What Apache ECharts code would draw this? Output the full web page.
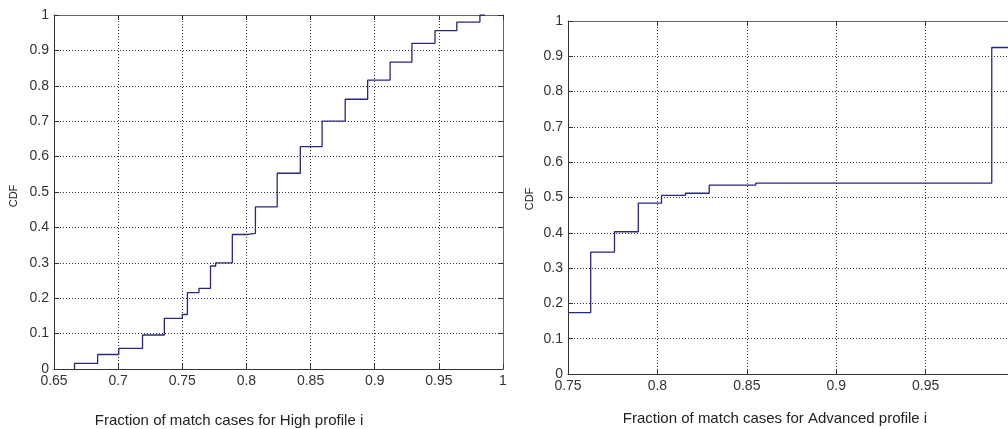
<!DOCTYPE html>
<html>
<head>
<meta charset="utf-8">
<script src="https://cdn.jsdelivr.net/npm/echarts@6/dist/echarts.min.js"></script>
<style>
  html, body { margin: 0; padding: 0; background: #fff; }
  #chart { width: 1008px; height: 429px; }
</style>
</head>
<body>
<div id="chart"></div>
<script>
// left panel: High profile
const highX = [0.666, 0.666, 0.684, 0.7005, 0.719, 0.736, 0.750, 0.754, 0.763, 0.772, 0.776, 0.789, 0.801, 0.807, 0.824, 0.842, 0.859, 0.877, 0.8945, 0.912, 0.929, 0.947, 0.964, 0.982, 0.986];
const highCdf = [0, 0.016, 0.041, 0.058, 0.096, 0.143, 0.154, 0.216, 0.228, 0.291, 0.300, 0.380, 0.383, 0.458, 0.553, 0.628, 0.700, 0.762, 0.816, 0.867, 0.920, 0.956, 0.980, 1.0, 1.0];
const highXTicks = [0.65, 0.7, 0.75, 0.8, 0.85, 0.9, 0.95, 1];

// right panel: Advanced profile (cut off at the right edge in the original)
const advX = [0.75, 0.7627, 0.776, 0.7893, 0.8023, 0.8157, 0.829, 0.855, 0.987, 1.0];
const advCdf = [0.174, 0.345, 0.403, 0.484, 0.506, 0.512, 0.535, 0.541, 0.925, 0.925];
const advXTicks = [0.75, 0.8, 0.85, 0.9, 0.95, 1];

const yTicks = [0, 0.1, 0.2, 0.3, 0.4, 0.5, 0.6, 0.7, 0.8, 0.9, 1];

const font = 'Liberation Sans, Arial, sans-serif';
const lineColor = '#28287f';
const fmt = (v) => String(+v.toFixed(2));

function xAxes(gridIndex, ticks) {
  const base = {
    type: 'value', gridIndex,
    min: ticks[0], max: ticks[ticks.length - 1], interval: 0.05,
    axisTick: { show: true, inside: true, length: 5, lineStyle: { color: '#333' } },
  };
  return [
    {
      ...base, position: 'bottom',
      axisLine: { show: true, onZero: false, lineStyle: { color: '#333', width: 1 } },
      axisLabel: { formatter: fmt, color: '#333', fontFamily: font, fontSize: 14, margin: 5 },
      splitLine: { show: true, lineStyle: { color: '#333', type: [1, 2], width: 1 } },
    },
    {
      ...base, position: 'top',
      axisLine: { show: true, onZero: false, lineStyle: { color: '#666', width: 1 } },
      axisLabel: { show: false }, splitLine: { show: false },
    },
  ];
}

function yAxes(gridIndex) {
  const base = {
    type: 'value', gridIndex,
    min: yTicks[0], max: yTicks[yTicks.length - 1], interval: 0.1,
    axisTick: { show: true, inside: true, length: 5, lineStyle: { color: '#333' } },
  };
  return [
    {
      ...base, position: 'left',
      axisLine: { show: true, onZero: false, lineStyle: { color: '#333', width: 1 } },
      axisLabel: { formatter: fmt, color: '#333', fontFamily: font, fontSize: 14, margin: 5 },
      splitLine: { show: true, lineStyle: { color: '#333', type: [1, 2], width: 1 } },
    },
    {
      ...base, position: 'right',
      axisLine: { show: true, onZero: false, lineStyle: { color: '#666', width: 1 } },
      axisLabel: { show: false }, splitLine: { show: false },
    },
  ];
}

function label(text, x, y, size, rotate) {
  return {
    type: 'text', x, y, rotation: rotate ? Math.PI / 2 : 0,
    style: { text, fill: '#222', font: size + 'px ' + font, align: 'center', verticalAlign: 'middle' },
  };
}

const chart = echarts.init(document.getElementById('chart'), null, { renderer: 'canvas' });
chart.setOption({
  animation: false,
  grid: [
    { left: 54, top: 15, width: 449, height: 354, outerBoundsMode: 'none' },
    { left: 568, top: 21, width: 447, height: 353, outerBoundsMode: 'none' },
  ],
  xAxis: [...xAxes(0, highXTicks), ...xAxes(1, advXTicks)],
  yAxis: [...yAxes(0), ...yAxes(1)],
  series: [
    {
      type: 'line', step: 'end', xAxisIndex: 0, yAxisIndex: 0,
      data: highX.map((x, i) => [x, highCdf[i]]),
      symbol: 'none', lineStyle: { color: lineColor, width: 1.3 },
    },
    {
      type: 'line', step: 'end', xAxisIndex: 2, yAxisIndex: 2,
      data: advX.map((x, i) => [x, advCdf[i]]),
      symbol: 'none', lineStyle: { color: lineColor, width: 1.3 },
    },
  ],
  graphic: [
    label('CDF', 14, 196, 11, true),
    label('CDF', 530, 199, 11, true),
    label('Fraction of match cases for High profile i', 229, 421, 15),
    label('Fraction of match cases for Advanced profile i', 775, 419, 15),
  ],
});
</script>
</body>
</html>
